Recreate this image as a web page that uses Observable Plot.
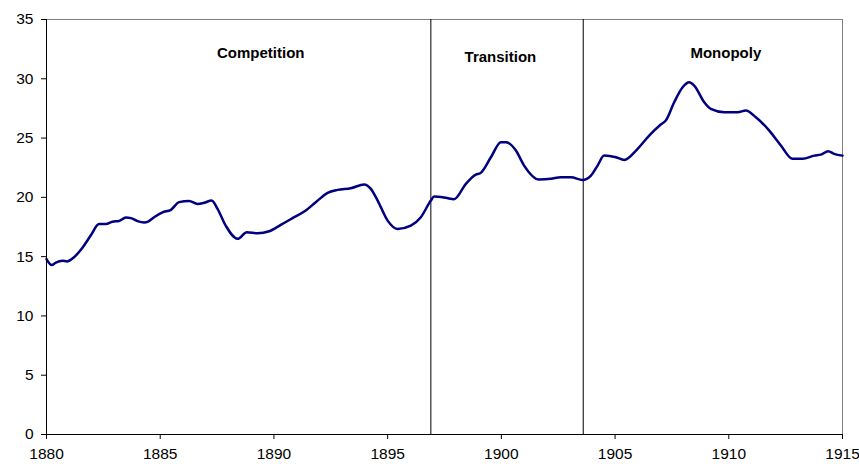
<!DOCTYPE html>
<html><head><meta charset="utf-8">
<script src="https://cdn.jsdelivr.net/npm/d3@7"></script>
<script src="https://cdn.jsdelivr.net/npm/@observablehq/plot@0.6"></script>
<style>html,body{margin:0;padding:0;background:#fff;overflow:hidden} svg{display:block}</style>
</head><body><div id="chart"></div>
<script>
const years = [1880.0, 1880.23, 1880.41, 1880.7, 1880.9, 1881.21, 1881.58, 1881.95, 1882.31, 1882.61, 1882.9, 1883.19, 1883.49, 1883.71, 1884.0, 1884.29, 1884.47, 1884.73, 1885.1, 1885.47, 1885.83, 1886.27, 1886.64, 1886.93, 1887.26, 1887.52, 1887.88, 1888.4, 1888.81, 1889.28, 1889.79, 1890.3, 1890.89, 1891.4, 1891.84, 1892.36, 1892.8, 1893.38, 1893.97, 1894.26, 1894.56, 1895.0, 1895.43, 1896.02, 1896.46, 1896.9, 1897.04, 1897.56, 1897.92, 1898.44, 1898.88, 1899.07, 1899.54, 1899.98, 1900.2, 1900.64, 1901.0, 1901.66, 1902.18, 1902.62, 1903.06, 1903.57, 1903.94, 1904.23, 1904.52, 1905.04, 1905.4, 1905.99, 1906.5, 1907.01, 1907.23, 1907.6, 1907.97, 1908.26, 1908.48, 1908.92, 1909.21, 1909.8, 1910.39, 1910.75, 1911.19, 1911.78, 1912.29, 1912.8, 1913.25, 1913.76, 1914.05, 1914.37, 1914.63, 1915.0];
const values = [14.8, 14.3, 14.5, 14.65, 14.6, 14.95, 15.75, 16.8, 17.75, 17.75, 17.95, 18.0, 18.3, 18.25, 18.0, 17.88, 17.95, 18.33, 18.74, 18.95, 19.6, 19.7, 19.45, 19.54, 19.73, 19.03, 17.62, 16.5, 17.06, 16.97, 17.14, 17.68, 18.33, 18.89, 19.59, 20.38, 20.63, 20.77, 21.08, 20.72, 19.73, 18.04, 17.34, 17.62, 18.33, 19.73, 20.07, 19.96, 19.84, 21.14, 21.92, 22.03, 23.38, 24.65, 24.65, 23.95, 22.68, 21.5, 21.56, 21.7, 21.7, 21.47, 21.84, 22.68, 23.52, 23.38, 23.16, 24.09, 25.21, 26.14, 26.48, 28.02, 29.28, 29.7, 29.43, 28.02, 27.46, 27.18, 27.18, 27.32, 26.75, 25.63, 24.37, 23.25, 23.25, 23.52, 23.6, 23.89, 23.67, 23.52];
const xTicks = [1880, 1885, 1890, 1895, 1900, 1905, 1910, 1915];
const yTicks = [0, 5, 10, 15, 20, 25, 30, 35];
const periodBreaks = [1896.9, 1903.6];
const periodNames = ["Competition", "Transition", "Monopoly"];
const periodLabelX = [1889.42, 1899.96, 1909.87];
const periodLabelY = [32.18, 31.78, 32.16];

const data = years.map((y, i) => ({year: y, value: values[i]}));
const labels = periodNames.map((n, i) => ({name: n, x: periodLabelX[i], y: periodLabelY[i]}));

const chart = Plot.plot({
  width: 859, height: 466,
  marginLeft: 46, marginRight: 17, marginTop: 19, marginBottom: 32,
  style: {fontFamily: "'Liberation Sans', Arial, sans-serif", fontSize: "15.5px", color: "#000", background: "#fff", overflow: "visible"},
  x: {domain: [1880, 1915]},
  y: {domain: [0, 35]},
  marks: [
    Plot.ruleY([35], {stroke: "#808080", strokeWidth: 1}),
    Plot.ruleX([1915], {stroke: "#808080", strokeWidth: 1}),
    Plot.ruleX(periodBreaks, {y1: 0, y2: 35, stroke: "#000", strokeWidth: 1}),
    Plot.line(data, {x: "year", y: "value", stroke: "#000080", strokeWidth: 2.5, curve: "monotone-x"}),
    Plot.axisX({ticks: xTicks, tickSize: 5, tickPadding: 8, tickFormat: d => String(d), label: null, stroke: "#000"}),
    Plot.axisY({ticks: yTicks, tickSize: 5, tickPadding: 8, label: null, stroke: "#000"}),
    Plot.ruleY([0], {stroke: "#000"}),
    Plot.ruleX([1880], {stroke: "#000"}),
    Plot.text(labels, {x: "x", y: "y", text: "name", fontWeight: "bold", fontSize: 15, lineAnchor: "middle", textAnchor: "middle", fill: "#000"})
  ]
});
document.getElementById("chart").appendChild(chart);
</script>
</body></html>
